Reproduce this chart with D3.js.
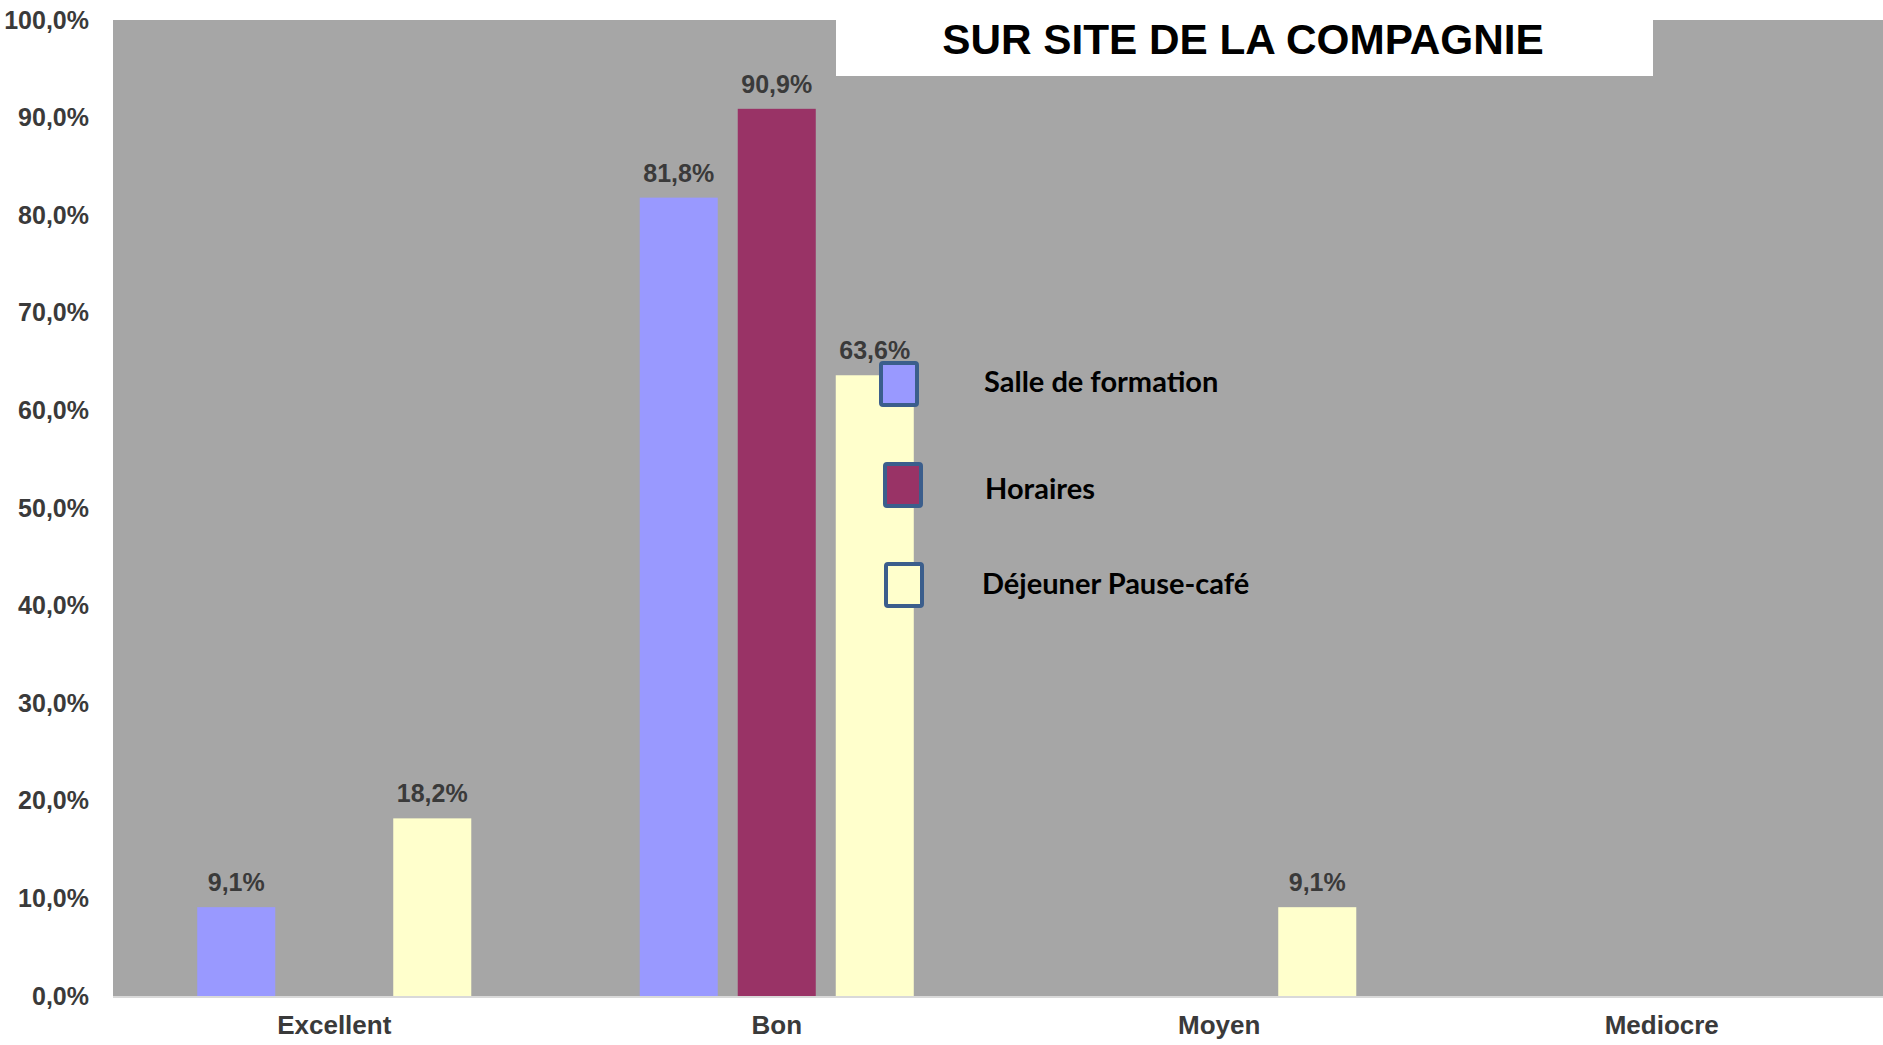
<!DOCTYPE html>
<html>
<head>
<meta charset="utf-8">
<script src="https://cdn.jsdelivr.net/npm/d3@7/dist/d3.min.js"></script>
<style>
  html, body { margin: 0; padding: 0; background: #ffffff; }
  svg { display: block; }
</style>
</head>
<body>
<svg id="chart" width="1883" height="1045"></svg>
<script>
const categories = ["Excellent", "Bon", "Moyen", "Mediocre"];
const seriesNames = ["Salle de formation", "Horaires", "Déjeuner Pause-café"];
const salleValues = [9.1, 81.8, 0, 0];
const horairesValues = [0, 90.9, 0, 0];
const dejeunerValues = [18.2, 63.6, 9.1, 0];
const yTicks = [0, 10, 20, 30, 40, 50, 60, 70, 80, 90, 100];
const title = "SUR SITE DE LA COMPAGNIE";
const colors = ["#9999FF", "#993366", "#FFFFCC"];

const seriesValues = [salleValues, horairesValues, dejeunerValues];

const W = 1883, H = 1045;
const m = { left: 113, right: 0, top: 20, bottom: 49 };
const plotW = W - m.left - m.right;
const plotH = H - m.top - m.bottom;

const svg = d3.select("#chart");
const fontArial = "'Liberation Sans', Arial, sans-serif";

const x0 = d3.scaleBand().domain(categories).range([0, plotW]).padding(0);
const bw = x0.bandwidth();
// group of 3 bars (width 78, gap 20) centred in each band
const groupStep = bw * 0.2215;
const x1 = d3.scaleBand().domain(seriesNames)
  .range([bw / 2 - groupStep * 1.5 + groupStep * 0.102, bw / 2 + groupStep * 1.5 - groupStep * 0.102])
  .paddingInner(0.204).paddingOuter(0);
const y = d3.scaleLinear().domain([0, 100]).range([plotH, 0]);

const g = svg.append("g").attr("transform", `translate(${m.left},${m.top})`);

// plot background
g.append("rect").attr("x", 0).attr("y", 0).attr("width", plotW).attr("height", plotH)
  .attr("fill", "#A6A6A6");

// bars
const rows = categories.map((c, i) => ({ cat: c, vals: seriesNames.map((s, j) => ({ s, j, v: seriesValues[j][i] })) }));
const groups = g.selectAll("g.cat").data(rows).join("g").attr("class", "cat")
  .attr("transform", d => `translate(${x0(d.cat)},0)`);
groups.selectAll("rect").data(d => d.vals.filter(e => e.v > 0)).join("rect")
  .attr("x", d => x1(d.s)).attr("width", x1.bandwidth())
  .attr("y", d => y(d.v)).attr("height", d => plotH - y(d.v))
  .attr("fill", d => colors[d.j]);
groups.selectAll("text").data(d => d.vals.filter(e => e.v > 0)).join("text")
  .attr("x", d => x1(d.s) + x1.bandwidth() / 2)
  .attr("y", d => y(d.v) - 16)
  .attr("text-anchor", "middle")
  .attr("font-family", fontArial).attr("font-weight", "bold").attr("font-size", 25)
  .attr("fill", "#3a3a3a")
  .text(d => d.v.toFixed(1).replace(".", ",") + "%");

// x axis baseline
g.append("line").attr("x1", 0).attr("x2", plotW).attr("y1", plotH + 1).attr("y2", plotH + 1)
  .attr("stroke", "#D9D9D9").attr("stroke-width", 2);

// y axis
const yAxis = g.append("g").call(d3.axisLeft(y).tickValues(yTicks).tickSize(0).tickPadding(24)
  .tickFormat(d => d.toFixed(1).replace(".", ",") + "%"));
yAxis.select(".domain").remove();
yAxis.selectAll("text").attr("font-family", fontArial).attr("font-weight", "bold")
  .attr("font-size", 25).attr("fill", "#3a3a3a");

// x axis
const xAxis = g.append("g").attr("transform", `translate(0,${plotH})`)
  .call(d3.axisBottom(x0).tickSize(0).tickPadding(20));
xAxis.select(".domain").remove();
xAxis.selectAll("text").attr("font-family", fontArial).attr("font-weight", "bold")
  .attr("font-size", 26).attr("fill", "#3a3a3a");

// title box
svg.append("rect").attr("x", 836).attr("y", 0).attr("width", 817).attr("height", 76).attr("fill", "#ffffff");
svg.append("text").attr("x", 1243).attr("y", 54).attr("text-anchor", "middle")
  .attr("font-family", fontArial).attr("font-weight", "bold").attr("font-size", 42.3)
  .attr("fill", "#000000").text(title);

// legend
const legendPos = [
  { bx: 879, by: 361, tx: 984, ty: 392 },
  { bx: 883, by: 462, tx: 985, ty: 499 },
  { bx: 884, by: 562, tx: 982, ty: 594 }
];
const lg = svg.append("g");
const items = lg.selectAll("g").data(seriesNames).join("g");
items.append("rect")
  .attr("x", (d, i) => legendPos[i].bx + 2).attr("y", (d, i) => legendPos[i].by + 2)
  .attr("width", 36).attr("height", 42).attr("rx", 2)
  .attr("fill", (d, i) => colors[i]).attr("stroke", "#3B5E8C").attr("stroke-width", 4);
items.append("text")
  .attr("x", (d, i) => legendPos[i].tx).attr("y", (d, i) => legendPos[i].ty)
  .attr("font-family", "Lato, 'Open Sans', sans-serif").attr("font-weight", "bold")
  .attr("font-size", 29).attr("fill", "#000000")
  .text(d => d);
</script>
</body>
</html>
